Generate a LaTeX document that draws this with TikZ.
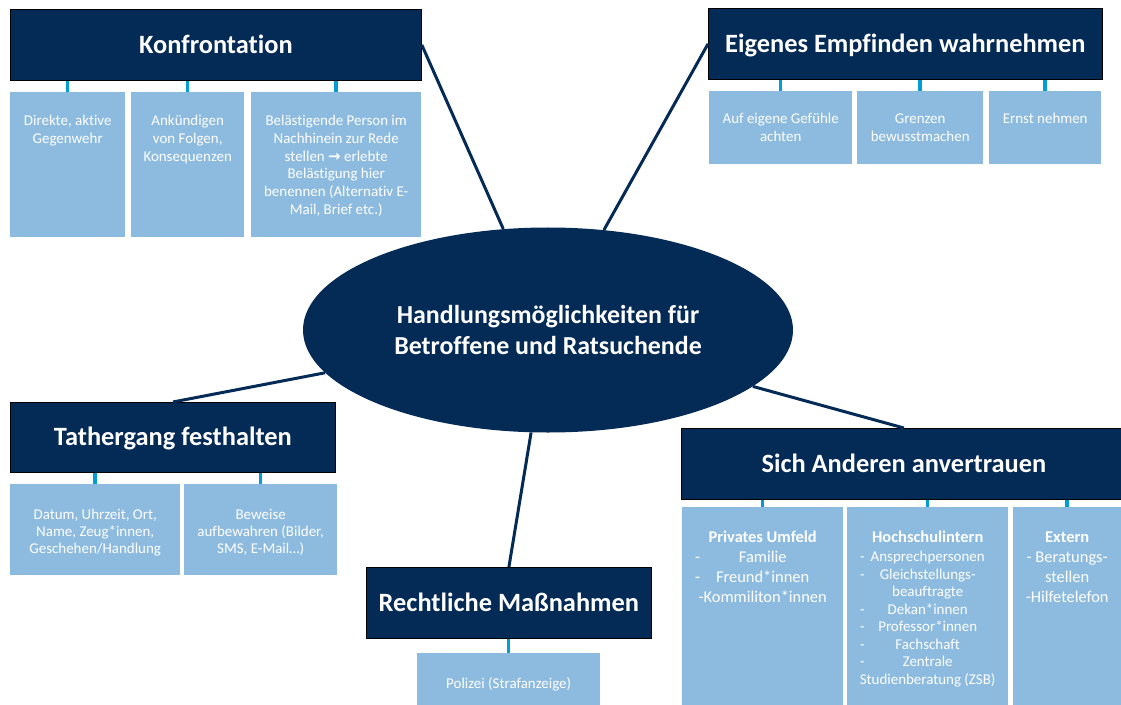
\documentclass[tikz,border=0pt]{standalone}
\usepackage{fontspec}
\setmainfont[Ligatures=NoCommon]{Carlito}
\newfontfamily\arrowfont{DejaVu Sans}
\usetikzlibrary{shapes.geometric}

\definecolor{navy}{RGB}{4,42,86}
\definecolor{lightblue}{RGB}{141,187,224}
\definecolor{tickblue}{RGB}{0,158,214}

% top aligned text in a box of fixed size: width, height, first baseline, text
\newcommand{\cell}[4]{\parbox[t][#2][t]{#1}{\centering\rule{0pt}{#3}#4}}
% line with a dash at the left and centred text
\newcommand{\dl}[1]{\makebox[\linewidth]{\hspace{13bp}\rlap{-}\hfill #1\hfill\hspace{13bp}}}

\begin{document}
\begin{tikzpicture}
        [x=1bp, y=-1bp,
        head/.style={fill=navy, draw=black, line width=0.8bp, text=white,
          anchor=north west, inner sep=0pt, minimum height=71bp,
          text height=20bp, text depth=3bp,
          font=\fontsize{26.5}{31}\selectfont\bfseries},
        sub/.style={fill=lightblue, text=white, anchor=north west, inner sep=0pt,
          font=\fontsize{15}{18}\selectfont},
        bigsub/.style={sub, font=\fontsize{16.5}{20}\selectfont},
        tick/.style={draw=tickblue, line width=3.5bp},
        spoke/.style={draw=navy, line width=3bp}]

    \useasboundingbox (0,0) rectangle (1121,705);

    % centre
    \node[ellipse, fill=navy, text=white, minimum width=490bp, minimum height=205bp,
      inner sep=0pt, align=center, font=\fontsize{26}{31}\selectfont\bfseries]
      (hm) at (548,330) {Handlungsmöglichkeiten für\\Betroffene und Ratsuchende};

    % headers
    \node[head, minimum width=411bp] (kon) at (10,9) {Konfrontation};
    \node[head, minimum width=394bp] (eig) at (708,8) {Eigenes Empfinden wahrnehmen};
    \node[head, minimum width=325bp, minimum height=70bp] (tat) at (10,402) {Tathergang festhalten};
    \node[head, minimum width=285bp] (rec) at (366,567) {Rechtliche Maßnahmen};
    \node[head, minimum width=445bp] (sich) at (681,428) {Sich Anderen anvertrauen};

    % Konfrontation
    \node[sub] (kon1) at (10,92) {\cell{115bp}{145bp}{33bp}{Direkte, aktive\\Gegenwehr}};
    \node[sub] (kon2) at (131,92) {\cell{113bp}{145bp}{33bp}{Ankündigen\\von Folgen,\\Konsequenzen}};
    \node[sub] (kon3) at (251,92) {\cell{170bp}{145bp}{33bp}{Belästigende Person im\\
      Nachhinein zur Rede\\stellen {\arrowfont\bfseries →} erlebte\\Belästigung hier\\
      benennen (Alternativ E-\\Mail, Brief etc.)}};

    % Eigenes Empfinden
    \node[sub] (eig1) at (709,91) {\cell{143bp}{73bp}{32bp}{Auf eigene Gefühle\\achten}};
    \node[sub] (eig2) at (857,91) {\cell{126bp}{73bp}{32bp}{Grenzen\\bewusstmachen}};
    \node[sub] (eig3) at (989,91) {\cell{112bp}{73bp}{32bp}{Ernst nehmen}};

    % Tathergang
    \node[sub, font=\fontsize{15}{17.2}\selectfont] (tat1) at (10,484)
      {\cell{170bp}{91bp}{35bp}{Datum, Uhrzeit, Ort,\\Name, Zeug*innen,\\Geschehen/Handlung}};
    \node[sub, font=\fontsize{15}{17.2}\selectfont] (tat2) at (184,484)
      {\cell{153bp}{91bp}{35bp}{Beweise\\aufbewahren (Bilder,\\SMS, E-Mail…)}};

    % Rechtliche Massnahmen
    \node[sub] (rec1) at (417,653) {\cell{183bp}{60bp}{35bp}{Polizei (Strafanzeige)}};

    % Sich Anderen anvertrauen
    \node[bigsub] (sich1) at (682,507) {\cell{161bp}{205bp}{35.5bp}{\textbf{Privates Umfeld}\\
      \dl{Familie}\\\dl{Freund*innen}\\-Kommiliton*innen}};
    \node[sub, font=\fontsize{15}{17.6}\selectfont] (sich2) at (847,507)
      {\cell{161bp}{205bp}{35.5bp}{{\fontsize{16.5}{20}\selectfont\bfseries Hochschulintern}\\[1.4bp]
      \dl{Ansprechpersonen}\\\dl{Gleichstellungs-}\\beauftragte\\\dl{Dekan*innen}\\
      \dl{Professor*innen}\\\dl{Fachschaft}\\\dl{Zentrale}\\Studienberatung (ZSB)}};
    \node[bigsub] (sich3) at (1013,507) {\cell{108bp}{205bp}{35.5bp}{\textbf{Extern}\\
      - Beratungs-\\stellen\\-Hilfetelefon}};

    % small ticks from header to box
    \foreach \b/\h in {kon1/kon, kon2/kon, kon3/kon, eig1/eig, eig2/eig, eig3/eig,
        tat1/tat, tat2/tat, rec1/rec, sich1/sich, sich2/sich, sich3/sich}
      \draw[tick] (\b.north) -- (\b.north |- \h.south);

    % spokes to the centre
    \foreach \h in {kon.east, eig.west, tat.north, rec.north, sich.north}
      \draw[spoke] (\h) -- (hm);
\end{tikzpicture}
\end{document}
